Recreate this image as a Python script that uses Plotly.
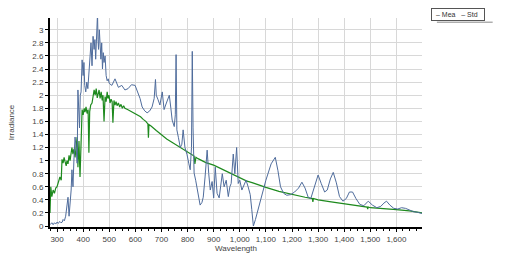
import plotly.graph_objects as go

# ---- Data ----
std_wl = [273, 276, 280, 285, 290, 295, 300, 305, 311, 316, 319, 323, 327, 331, 335, 338, 342, 346, 350, 354,
          357, 361, 365, 369, 373, 377, 380, 384, 388, 392, 396, 400, 404, 407, 411, 415, 419, 422, 425, 429,
          434, 438, 442, 446, 450, 454, 457, 461, 465, 469, 473, 476, 480, 484, 488, 492, 495, 499, 503, 507,
          511, 514, 518, 522, 526, 530, 535, 540, 545, 550, 555, 560, 570, 580, 590, 600, 610, 620, 630, 640,
          648, 650, 652, 660, 680, 700, 720, 740, 760, 780, 800, 815, 825, 828, 832, 840, 850, 870, 900, 925,
          950, 975, 1000, 1025, 1050, 1075, 1100, 1150, 1200, 1250, 1278, 1280, 1282, 1300, 1350, 1400, 1450,
          1488, 1490, 1492, 1500, 1550, 1600, 1650, 1700]
std_val = [0.2, 0.6, 0.45, 0.55, 0.5, 0.58, 0.6, 0.66, 0.75, 0.7, 1.02, 0.96, 1.05, 0.98, 0.92, 1.0, 0.95, 1.08,
           1.0, 1.12, 1.2, 1.1, 1.18, 1.05, 1.22, 1.36, 0.9, 1.3, 0.75, 1.45, 1.78, 1.7, 1.8, 1.74, 1.82, 1.72,
           1.78, 1.12, 1.75, 1.85, 1.88, 1.98, 2.08, 2.0, 2.1, 1.96, 2.03, 2.08, 1.95, 2.05, 1.92, 2.0, 1.6, 1.98,
           1.9, 2.05, 1.95, 2.0, 1.88, 1.94, 1.9, 1.58, 1.92, 1.85, 1.9, 1.84, 1.88, 1.82, 1.86, 1.8, 1.84, 1.8,
           1.78, 1.76, 1.74, 1.72, 1.7, 1.67, 1.63, 1.6, 1.56, 1.35, 1.55, 1.53, 1.46, 1.39, 1.33, 1.28, 1.23,
           1.18, 1.13, 1.09, 1.07, 0.95, 1.05, 1.03, 1.01, 0.97, 0.93, 0.88, 0.84, 0.79, 0.74, 0.69, 0.66, 0.62,
           0.59, 0.53, 0.48, 0.44, 0.42, 0.37, 0.42, 0.4, 0.37, 0.34, 0.31, 0.29, 0.26, 0.29, 0.28, 0.27, 0.25,
           0.23, 0.2]

mea_wl = [273, 280, 285, 290, 295, 300, 305, 310, 315, 320, 323, 328, 333, 338, 342, 346, 350, 354, 357, 361,
          365, 369, 373, 377, 380, 383, 386, 389, 392, 396, 400, 403, 406, 410, 414, 418, 422, 426, 430, 434,
          438, 442, 445, 448, 451, 455, 457, 459, 462, 465, 468, 471, 474, 477, 480, 484, 488, 492, 496, 500,
          510, 522, 535, 548, 560, 572, 585, 599, 610, 618, 626, 636, 645, 655, 664, 672, 677, 680, 687, 694,
          703, 710, 716, 722, 730, 736, 741, 749, 753, 756, 759, 765, 772, 778, 783, 790, 798, 805, 810, 815,
          818, 821, 825, 831, 837, 843, 848, 855, 860, 867, 875, 881, 887, 894, 900, 906, 913, 921, 927, 933,
          940, 948, 956, 962, 967, 975, 981, 988, 994, 1000, 1008, 1016, 1024, 1032, 1040, 1046, 1052, 1060,
          1080, 1100, 1120, 1136, 1146, 1156, 1168, 1180, 1195, 1210, 1225, 1238, 1250, 1262, 1272, 1285, 1300,
          1312, 1325, 1335, 1347, 1358, 1370, 1382, 1395, 1408, 1420, 1432, 1445, 1460, 1475, 1492, 1508, 1525,
          1540, 1552, 1562, 1575, 1590, 1605, 1620, 1635, 1650, 1665, 1680, 1700]
mea_val = [0.02, 0.05, 0.02, 0.05, 0.03, 0.06, 0.04, 0.07, 0.05, 0.06, 0.1, 0.08, 0.15, 0.35, 0.44, 0.15,
           0.3, 0.55, 0.86, 0.6, 1.05, 1.36, 1.2, 0.96, 2.08, 1.83, 1.5, 2.0, 2.05, 2.54, 2.3, 2.5, 2.15, 2.05,
           2.2, 2.1, 2.35, 2.6, 2.8, 2.45, 2.9, 2.7, 2.85, 2.55, 2.95, 3.25, 2.85, 2.7, 3.0, 2.75, 2.55, 2.8, 2.4,
           2.65, 2.5, 2.6, 2.3, 2.22, 2.25, 2.18, 2.15, 2.25, 2.12, 2.15, 2.08, 2.1, 2.16, 2.15, 2.05, 1.95, 1.82,
           1.76, 1.73, 1.76, 1.82, 1.95, 2.24, 2.0, 1.93, 1.85, 2.05, 1.78, 1.85, 1.93, 2.0, 1.8, 1.62, 1.52,
           1.7, 2.62, 1.47, 1.35, 1.2, 1.25, 1.47, 1.2, 1.09, 0.95, 0.86, 1.2, 2.67, 1.5, 0.81, 0.7, 0.55, 0.4,
           0.32, 0.36, 0.44, 0.75, 1.16, 0.8, 0.55, 0.68, 0.43, 0.9, 0.5, 0.43, 0.65, 0.8, 0.6, 0.7, 0.45, 0.6,
           0.65, 1.1, 0.8, 1.2, 0.65, 0.7, 0.55, 0.62, 0.7, 0.6, 0.48, 0.25, 0.0, 0.1, 0.42, 0.7, 0.95, 1.05,
           0.85, 0.6, 0.5, 0.47, 0.48, 0.52, 0.58, 0.67, 0.58, 0.44, 0.42, 0.6, 0.78, 0.65, 0.52, 0.55, 0.72,
           0.82, 0.66, 0.45, 0.38, 0.42, 0.52, 0.52, 0.42, 0.33, 0.31, 0.38, 0.32, 0.28, 0.3, 0.35, 0.38, 0.32,
           0.27, 0.26, 0.28, 0.27, 0.24, 0.22, 0.21, 0.19]

series_names = ["Mea", "Std"]
x_title = "Wavelength"
y_title = "Irradiance"

BLUE = "#4f6c9c"
GREEN = "#1e8a1e"
FONT = "Liberation Sans"

fig = go.Figure()
fig.add_trace(go.Scatter(x=std_wl, y=std_val, mode="lines", name=series_names[1],
                         line=dict(color=GREEN, width=1.2)))
fig.add_trace(go.Scatter(x=mea_wl, y=mea_val, mode="lines", name=series_names[0],
                         line=dict(color=BLUE, width=1)))

fig.update_layout(
    width=508, height=258,
    margin=dict(l=50, r=86, t=18, b=31),
    paper_bgcolor="white", plot_bgcolor="white",
    showlegend=False,
    font=dict(family=FONT, size=8, color="#444"),
)

fig.update_xaxes(
    range=[273, 1698], tickmode="linear", tick0=0, dtick=100, tickformat=",",
    automargin=False,
    showgrid=True, gridcolor="#d8d8d8", gridwidth=1,
    showline=True, linecolor="black", linewidth=2,
    ticks="outside", ticklen=3, tickcolor="black",
    minor=dict(ticks="outside", ticklen=2, dtick=25, tickcolor="black", showgrid=False),
    zeroline=False,
    title=dict(text=x_title, font=dict(size=8, family=FONT, color="#444"), standoff=3),
)
fig.update_yaxes(
    range=[-0.015, 3.18], tickmode="linear", tick0=0, dtick=0.2,
    automargin=False,
    showgrid=True, gridcolor="#d8d8d8", gridwidth=1,
    showline=True, linecolor="black", linewidth=2,
    ticks="outside", ticklen=3, tickcolor="black",
    zeroline=False,
    title=dict(text=y_title, font=dict(size=8, family=FONT, color="#444"), standoff=16),
)

# Legend drawn as a bordered text box like the reference
legend_text = ("&nbsp;<span style='color:%s'>–</span>&nbsp;%s&nbsp;&nbsp;&nbsp;<span style='color:%s'>–</span>&nbsp;%s&nbsp;&nbsp;"
               % ("#333", series_names[0], "#333", series_names[1]))
fig.add_annotation(
    xref="paper", yref="paper", x=1.025, y=1.048, xanchor="left", yanchor="top",
    text=legend_text, showarrow=False, align="left",
    font=dict(size=7, family=FONT, color="#333"),
    bordercolor="#555", borderwidth=1, borderpad=2, bgcolor="white",
)
fig.add_shape(type="line", xref="paper", yref="paper", x0=1.04, x1=1.19, y0=0.98, y1=0.98,
              line=dict(color="#888", width=1))

fig.write_html("out.html")
